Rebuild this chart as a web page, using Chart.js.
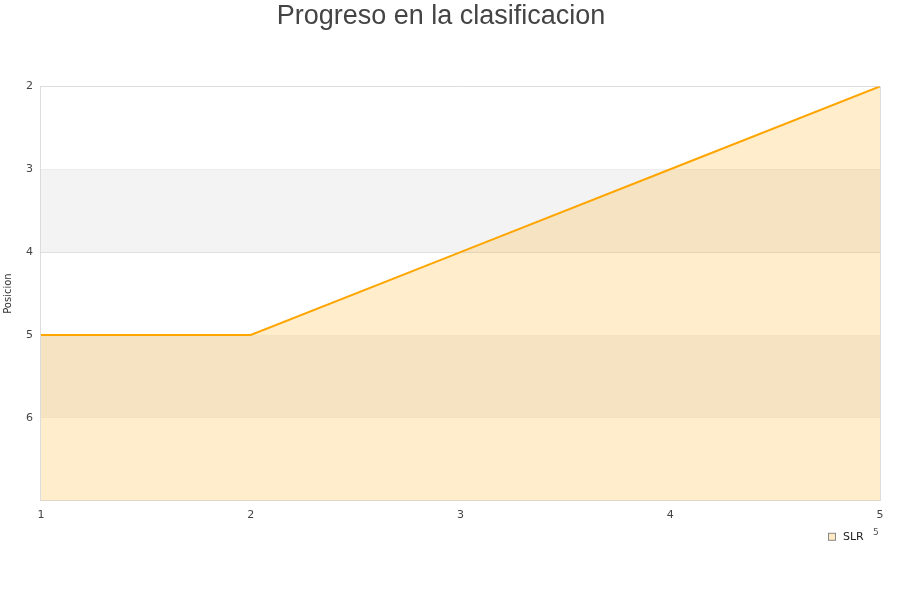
<!DOCTYPE html>
<html>
<head>
<meta charset="utf-8">
<script src="https://cdn.jsdelivr.net/npm/chart.js@4/dist/chart.umd.min.js"></script>
<style>
  html, body { margin: 0; padding: 0; background: #fff; }
  #wrap { width: 900px; height: 600px; }
</style>
</head>
<body>
<div id="wrap"><canvas id="chart"></canvas></div>
<script>
// ==== Data ====
const rounds = [1, 2, 3, 4, 5];
const slrPositions = [5, 5, 4, 3, 2];
const yTicks = [2, 3, 4, 5, 6];
const bandRanges = [[3, 4], [5, 6]];
const seriesName = 'SLR';

// ==== Striped background bands + legend ====
const bandsPlugin = {
    id: 'bands',
    beforeDatasetsDraw(chart) {
        const { ctx, chartArea, scales } = chart;
        ctx.save();
        ctx.fillStyle = '#f3f3f3';
        bandRanges.forEach(([a, b]) => {
            const y1 = scales.y.getPixelForValue(a);
            const y2 = scales.y.getPixelForValue(b);
            ctx.fillRect(chartArea.left, y1, chartArea.right - chartArea.left, y2 - y1);
        });
        ctx.restore();
    },
    afterDraw(chart) {
        const { ctx, chartArea } = chart;
        const right = chartArea.right;
        const ly = chartArea.bottom + 36;
        ctx.save();
        // legend box
        ctx.fillStyle = 'rgba(255,225,170,0.7)';
        ctx.strokeStyle = '#888';
        ctx.lineWidth = 1;
        ctx.fillRect(right - 51.5, ly - 3.5, 7, 7);
        ctx.strokeRect(right - 51.5, ly - 3.5, 7, 7);
        ctx.fillStyle = '#222';
        ctx.font = '11px "DejaVu Sans"';
        ctx.textAlign = 'left';
        ctx.textBaseline = 'middle';
        ctx.fillText(seriesName, right - 37, ly);
        // small stray label
        ctx.fillStyle = '#555';
        ctx.font = '9px "DejaVu Sans"';
        ctx.fillText('5', right - 7, ly - 4);
        ctx.restore();
    }
};

new Chart(document.getElementById('chart'), {
    type: 'line',
    data: {
        labels: rounds,
        datasets: [{
            label: seriesName,
            data: rounds.map((r, i) => ({ x: r, y: slrPositions[i] })),
            borderColor: '#ffa500',
            backgroundColor: 'rgba(255,165,0,0.2)',
            borderWidth: 2,
            pointRadius: 0,
            tension: 0,
            fill: { value: 7 }
        }]
    },
    options: {
        responsive: true,
        maintainAspectRatio: false,
        animation: false,
        layout: { padding: { top: 0, right: 20, bottom: 70, left: 2 } },
        plugins: {
            title: {
                display: true,
                text: 'Progreso en la clasificacion',
                color: '#444',
                font: { family: '"Liberation Sans", Arial', size: 27, weight: 'normal' },
                padding: { top: 0, bottom: 54 }
            },
            legend: { display: false },
            tooltip: { enabled: false }
        },
        scales: {
            x: {
                type: 'linear',
                min: 1,
                max: 5,
                ticks: {
                    stepSize: 1,
                    color: '#444',
                    padding: 8,
                    font: { family: '"DejaVu Sans"', size: 11 }
                },
                grid: {
                    drawTicks: false,
                    color: ctx => (ctx.tick && ctx.tick.value === 5 ? '#dcdcdc' : 'rgba(0,0,0,0)')
                },
                border: { color: '#dcdcdc' }
            },
            y: {
                reverse: true,
                min: 2,
                max: 7,
                afterBuildTicks: axis => { axis.ticks = [...yTicks, 7].map(v => ({ value: v })); },
                ticks: {
                    color: '#444',
                    padding: 8,
                    font: { family: '"DejaVu Sans"', size: 11 },
                    callback: v => (yTicks.includes(v) ? v : '')
                },
                grid: { drawTicks: false, color: '#dcdcdc' },
                border: { color: '#dcdcdc' },
                title: {
                    display: true,
                    text: 'Posicion',
                    color: '#333',
                    font: { family: '"DejaVu Sans"', size: 10 },
                    padding: { top: 0, bottom: 4 }
                }
            }
        }
    },
    plugins: [bandsPlugin]
});
</script>
</body>
</html>
